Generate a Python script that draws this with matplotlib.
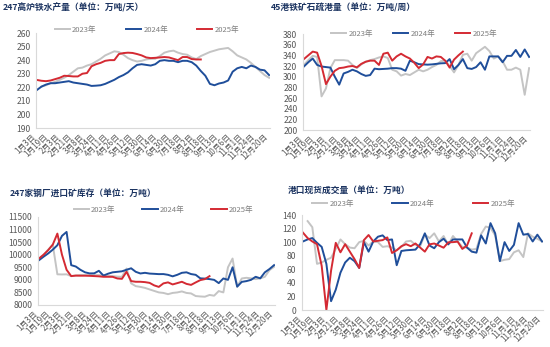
import numpy as np
import matplotlib
matplotlib.use('Agg')
import matplotlib.pyplot as plt

plt.rcParams['font.family'] = ['Noto Sans CJK SC', 'DejaVu Sans']

nan = np.nan

# x axis labels (weekly data, labels spread evenly)
date_labels = ['1月3日', '1月19日', '2月3日', '2月21日', '3月8日', '3月24日', '4月11日',
               '4月26日', '5月12日', '5月30日', '6月14日', '6月30日', '7月18日', '8月2日',
               '8月18日', '9月13日', '10月6日', '11月1日', '11月24日', '12月20日']

# 247 blast furnace hot metal output (10k t/day)
hm_2023 = [nan, 220.5, 221.5, 223, 224, 225.5, 227, 229, 231.5, 234, 234.5, 236, 237, 239,
           241, 243.5, 245, 246.5, 246, 244, 241.5, 240, 239, 239.5, 240.5, 241, 241, 243,
           245.5, 246.5, 247, 245.5, 244.5, 244, 242, 240.8, 243, 244.5, 246, 247, 248, 248.5,
           249, 246.5, 243.5, 242, 240.5, 238, 235, 232, 229, 227]
hm_2024 = [218, 220.5, 222, 223, 223, 223.5, 224, 224.5, 223.5, 223, 222.5, 222, 221, 221.2,
           221.5, 222.5, 224, 225.5, 227.5, 229, 231, 234, 236.5, 237, 236.5, 236, 237, 239.5,
           240, 239.5, 239.5, 238.5, 239.5, 239.5, 238.5, 236, 232, 228.5, 222.5, 221.5, 222.8,
           223.5, 225, 231.5, 234, 235, 234, 236, 235, 233, 232.5, 229]
hm_2025 = [225.4, 224.8, 224.5, 225, 226, 227, 228.5, 228.3, 228, 228, 230, 230.5, 235.5, 237,
           238, 239.5, 240, 240, 244.5, 245.2, 245.5, 245.3, 244.5, 243.5, 242, 241.5, 241.7,
           242, 242.3, 242, 241, 240, 242.3, 242.3, 240.8, 240.5, 240.5]

# 45 ports iron ore shipments (10k t/week)
sh_2023 = [322, 331, 339, 337, 263, 278, 316, 331, 331, 331, 330, 322, 316, 323, 328, 331, 333,
           336, 338, 335, 313, 310, 302, 305, 303, 308, 313, 310, 313, 318, 322, 329, 330, 320,
           308, 322, 341, 343, 330, 344, 350, 356, 348, 334, 338, 329, 313, 313, 317, 313, 266, 316]
sh_2024 = [319, 327, 334, 322, 319, 318, 317, 300, 285, 306, 309, 313, 310, 305, 301.5, 303, 315,
           314, 314.5, 315, 316, 316, 315, 311, 330, 327, 323.5, 323, 322.5, 323, 324, 325, 325.4,
           333, 314, 322, 333, 316, 314.5, 318, 327, 313, 338, 338, 338, 327, 339, 339, 350, 337,
           351, 337]
sh_2025 = [333, 340, 347, 345, 320, 286, 300, 311, 316, 317, 319, 320, 317.5, 324, 328, 330, 330,
           322, 343, 345, 330, 338, 343, 338, 334, 326, 316, 323, 337, 334, 338, 337, 330, 317,
           332, 340, 347]

# 247 steel mills imported ore inventory (10k t)
inv_2023 = [9820, 9980, 10200, 10400, 9220, 9215, 9220, 9148, 9170, 9190, 9190, 9190, 9190, 9190,
            9170, 9160, 9150, 9130, 9122, 9450, 8860, 8750, 8720, 8680, 8620, 8560, 8501, 8480,
            8430, 8480, 8500, 8540, 8480, 8460, 8356, 8340, 8330, 8400, 8370, 8554, 8501, 9500,
            9849, 8726, 9056, 9082, 9060, 9030, 9060, 9122, 9386, 9519]
inv_2024 = [9780, 9920, 10050, 10200, 10377, 10750, 10906, 9585, 9530, 9400, 9300, 9257, 9260,
            9360, 9170, 9245, 9300, 9320, 9340, 9400, 9460, 9320, 9254, 9280, 9250, 9240, 9228,
            9230, 9200, 9140, 9200, 9280, 9300, 9230, 9200, 9060, 9050, 9030, 9000, 8870, 9056,
            9000, 9500, 8730, 8920, 8950, 9000, 9122, 9060, 9300, 9430, 9585]
inv_2025 = [9849, 10000, 10180, 10400, 10840, 10000, 9400, 9150, 9170, 9165, 9165, 9160, 9150,
            9140, 9122, 9122, 9120, 9056, 9040, 9320, 8950, 8924, 8924, 8910, 8880, 8780, 8720,
            8860, 8900, 8818, 8870, 8924, 8840, 8800, 8898, 8990, 9030, 9148]

# port spot trade volume (10k t)
tr_2023 = [nan, 131, 122, 68, 70, 74, 77, 90, 104, 97, 92, 91, 100, 102, 95, 101, 100, 93, 94,
           92, 88, 93, 101, 102, 96, 94, 111, 106, 113, 101, 109, 96, 109, 101, 93, 92, 89, 90,
           112, 123, 121, 110, 72, 74, 75, 85, 88, 78, 113, 108, 105, 101]
tr_2024 = [101, 104, 106, 99, 93, 68, 13, 30, 55, 70, 77, 72, 62, 100, 86, 101, 108, 110, 103,
           104, 66, 87, 88, 88.5, 89, 97, 113, 95, 91, 100, 105, 97, 104, 104, 104, 92, 86, 84.5,
           110, 98, 128, 113, 72, 100, 87, 96, 128, 111, 112, 101, 111, 101]
tr_2025 = [114, 106, 101, 97, 65, 0, 58, 99, 85, 97, 86, 75, 62, 103, 110.5, 101, 102, 103, 107,
           84, 88, 94, 97, 94, 98, 92, 86, 96.8, 98, 95, 91.8, 99.7, 100, 100.7, 90, 95, 113]

COLORS = {'2023年': '#C4C4C4', '2024年': '#1F4E9A', '2025年': '#D42A33'}
TITLE_COLOR = '#1C3461'
TEXT_COLOR = '#595959'
W, H = 550, 347


def px_rect(left, right, top, bottom):
    """axes rect in figure coords from pixel edges"""
    return [left / W, 1 - bottom / H, (right - left) / W, (bottom - top) / H]


def draw_panel(ax, series, ylim, ystep, leg_pos, colspace):
    for name, vals in series:
        ax.plot(np.arange(len(vals)), vals, color=COLORS[name], lw=1.4, label=name,
                solid_joinstyle='round')
    ax.set_xlim(-0.2, 51.2)
    ax.set_ylim(*ylim)
    ax.set_yticks(np.arange(ylim[0], ylim[1] + ystep / 2, ystep))
    ax.set_xticks(np.linspace(0, 51, len(date_labels)))
    ax.set_xticklabels(date_labels, rotation=45, ha='right', fontsize=5.7, color=TEXT_COLOR)
    ax.tick_params(axis='y', labelsize=6.2, labelcolor=TEXT_COLOR, length=0, pad=4)
    ax.tick_params(axis='x', length=0, pad=3)
    for s in ['top', 'right']:
        ax.spines[s].set_visible(False)
    for s in ['left', 'bottom']:
        ax.spines[s].set_color('#D9D9D9')
        ax.spines[s].set_linewidth(0.8)
    leg = ax.legend(loc='center', bbox_to_anchor=leg_pos, ncol=3, frameon=False,
                    fontsize=5.5, handlelength=2.0, handletextpad=0.3,
                    columnspacing=colspace)
    for t in leg.get_texts():
        t.set_color('#7F7F7F')


fig = plt.figure(figsize=(5.5, 3.47), dpi=100)
fig.patch.set_facecolor('white')

ax1 = fig.add_axes(px_rect(36, 270, 33, 128))
draw_panel(ax1, [('2023年', hm_2023), ('2024年', hm_2024), ('2025年', hm_2025)],
           (190, 260), 10, (0.474, 1.03), 3.8)

ax2 = fig.add_axes(px_rect(303, 530, 34, 130))
draw_panel(ax2, [('2023年', sh_2023), ('2024年', sh_2024), ('2025年', sh_2025)],
           (200, 380), 20, (0.489, 1.0), 2.6)

ax3 = fig.add_axes(px_rect(38, 275, 217, 305))
draw_panel(ax3, [('2023年', inv_2023), ('2024年', inv_2024), ('2025年', inv_2025)],
           (8000, 11500), 500, (0.53, 1.084), 3.5)

ax4 = fig.add_axes(px_rect(302, 543, 215, 310))
draw_panel(ax4, [('2023年', tr_2023), ('2024年', tr_2024), ('2025年', tr_2025)],
           (0, 140), 20, (0.463, 1.12), 5.0)

title_kw = dict(fontsize=6.3, fontweight='bold', color=TITLE_COLOR, va='center', ha='left',
                style='italic')
fig.text(3 / W, 1 - 8 / H, '247高炉铁水产量（单位：万吨/天）', **title_kw)
fig.text(271 / W, 1 - 8 / H, '45港铁矿石疏港量（单位：万吨/周）', **title_kw)
fig.text(10 / W, 1 - 193 / H, '247家钢厂进口矿库存（单位：万吨）', **title_kw)
fig.text(288 / W, 1 - 190.5 / H, '港口现货成交量（单位：万吨）', **title_kw)

fig.savefig('out.png', dpi=100)
